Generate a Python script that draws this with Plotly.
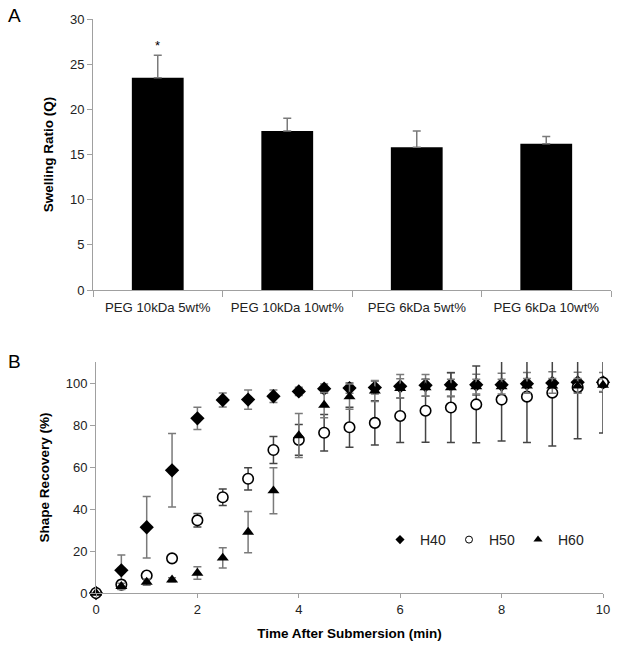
import plotly.graph_objects as go

# Panel A data
categories = ["PEG 10kDa 5wt%", "PEG 10kDa 10wt%", "PEG 6kDa 5wt%", "PEG 6kDa 10wt%"]
swelling = [23.5, 17.6, 15.8, 16.2]
swelling_err = [2.5, 1.4, 1.8, 0.8]

# Panel B data
time_min = [0, 0.5, 1, 1.5, 2, 2.5, 3, 3.5, 4, 4.5, 5, 5.5, 6, 6.5, 7, 7.5, 8, 8.5, 9, 9.5, 10]
h40 = [0, 10.8, 31.3, 58.4, 83.2, 91.9, 92.1, 93.7, 96.0, 97.3, 97.6, 97.8, 98.4, 98.9, 99.2, 99.2, 99.2, 99.7, 100.0, 100.3, 100.3]
h40_err = [0, 7.3, 14.6, 17.5, 5.3, 3.3, 4.6, 3.0, 2.0, 2.2, 2.5, 3.0, 5.7, 5.2, 5.8, 5.0, 5.4, 5.3, 5.3, 4.8, 4.7]
h50 = [0, 4.0, 8.3, 16.5, 34.6, 45.6, 54.4, 68.1, 72.9, 76.3, 78.9, 81.0, 84.3, 86.8, 88.3, 89.8, 92.1, 93.5, 95.4, 98.0, 100.2]
h50_err = [0, 2.0, 1.5, 1.0, 3.2, 3.9, 5.3, 6.4, 7.3, 8.7, 9.5, 10.5, 12.6, 15.0, 16.6, 18.3, 19.7, 21.8, 25.4, 24.6, 24.0]
h60 = [0, 3.2, 5.2, 6.3, 9.5, 16.7, 29.0, 48.7, 75.0, 89.5, 93.5, 96.2, 97.5, 97.8, 97.8, 98.3, 98.3, 98.6, 98.6, 98.6, 99.0]
h60_err = [0, 1.5, 1.5, 1.0, 3.0, 4.8, 9.8, 11.0, 10.5, 6.0, 6.0, 5.0, 4.5, 4.0, 4.0, 3.5, 3.5, 3.5, 3.5, 3.5, 3.0]
series_names = ["H40", "H50", "H60"]

W, H = 617, 646
FONT = "Liberation Sans, Arial, sans-serif"
TICKC = "#222222"
AXC = "#a0a0a0"
ERRC = "#7a7a7a"


def px_x(p):
    return p / W


def px_y(p):
    return (H - p) / H


fig = go.Figure()

fig.add_trace(go.Bar(
    x=categories, y=swelling, width=0.4,
    marker=dict(color="black", line=dict(width=0)),
    error_y=dict(type="data", array=swelling_err, arrayminus=[0] * 4, symmetric=False,
                 color=ERRC, thickness=1.5, width=4),
    xaxis="x", yaxis="y", showlegend=False,
))

styles = [
    dict(symbol="diamond", size=11, color="black", line=dict(width=0)),
    dict(symbol="circle", size=10.5, color="white", line=dict(color="black", width=1.6)),
    dict(symbol="triangle-up", size=10.5, color="black", line=dict(width=0)),
]
legend_styles = [
    dict(symbol="diamond", size=7, color="black", line=dict(width=0)),
    dict(symbol="circle", size=7, color="white", line=dict(color="black", width=1)),
    dict(symbol="triangle-up", size=8, color="black", line=dict(width=0)),
]
ecolors = [ERRC, "#444444", ERRC]

for name, y, err, st, lst, ec in zip(series_names, [h40, h50, h60], [h40_err, h50_err, h60_err],
                                     styles, legend_styles, ecolors):
    fig.add_trace(go.Scatter(
        x=time_min, y=y, mode="markers", name=name, legendgroup=name, showlegend=False,
        marker=st,
        error_y=dict(type="data", array=err, color=ec, thickness=1.5, width=4),
        xaxis="x2", yaxis="y2", cliponaxis=False,
    ))
    # legend entry with the smaller symbol used in the reference legend
    fig.add_trace(go.Scatter(
        x=[None], y=[None], mode="markers", name=name, legendgroup=name, showlegend=True,
        marker=lst, xaxis="x2", yaxis="y2",
    ))

fig.update_layout(
    width=W, height=H,
    margin=dict(l=0, r=0, t=0, b=0),
    paper_bgcolor="white", plot_bgcolor="white",
    font=dict(family=FONT, size=12, color=TICKC),
    xaxis=dict(domain=[px_x(93), px_x(611)], anchor="y", type="category",
               showline=True, linecolor=AXC, linewidth=1,
               ticks="outside", tickson="boundaries", ticklen=6, tickcolor=AXC,
               ticklabelstandoff=5,
               tickfont=dict(size=13.2, color=TICKC), showgrid=False, automargin=False),
    yaxis=dict(domain=[px_y(290), px_y(19)], anchor="x", range=[0, 30], dtick=5,
               showline=True, linecolor=AXC, linewidth=1,
               ticks="outside", ticklen=5, tickcolor=AXC, showgrid=False, zeroline=False,
               tickfont=dict(size=13, color=TICKC),
               title=dict(text="<b>Swelling Ratio (Q)</b>", font=dict(size=13.5, color="black"), standoff=13),
               automargin=False),
    xaxis2=dict(domain=[px_x(96), px_x(603)], anchor="y2", range=[0, 10], dtick=2,
                showline=True, linecolor=AXC, linewidth=1,
                ticks="outside", ticklen=4, tickcolor=AXC, showgrid=False, zeroline=False,
                tickfont=dict(size=13, color=TICKC),
                title=dict(text="<b>Time After Submersion (min)</b>", font=dict(size=13.5, color="black"), standoff=12),
                automargin=False),
    yaxis2=dict(domain=[px_y(593), px_y(362)], anchor="x2", range=[0, 110],
                tickvals=[0, 20, 40, 60, 80, 100],
                showline=True, linecolor=AXC, linewidth=1,
                ticks="outside", ticklen=5, tickcolor=AXC, showgrid=False, zeroline=False,
                tickfont=dict(size=13, color=TICKC),
                title=dict(text="<b>Shape Recovery (%)</b>", font=dict(size=13.5, color="black"), standoff=12),
                automargin=False),
    legend=dict(orientation="h", x=px_x(380), y=px_y(540), xanchor="left", yanchor="middle",
                bgcolor="rgba(0,0,0,0)", font=dict(size=14, color=TICKC),
                itemwidth=30, tracegroupgap=0, itemclick=False,
                entrywidth=24, entrywidthmode="pixels"),
    showlegend=True,
    annotations=[
        dict(text="A", x=px_x(6), y=px_y(15), xref="paper", yref="paper", showarrow=False,
             xanchor="left", yanchor="middle", font=dict(size=19, color="black", family=FONT)),
        dict(text="B", x=px_x(6), y=px_y(361), xref="paper", yref="paper", showarrow=False,
             xanchor="left", yanchor="middle", font=dict(size=19, color="black", family=FONT)),
        dict(text="*", x=categories[0], y=swelling[0] + swelling_err[0], xref="x", yref="y",
             showarrow=False, yanchor="bottom", font=dict(size=13, color="black", family=FONT)),
    ],
)

fig.write_html(
    "out.html",
    config={"displayModeBar": False, "staticPlot": False},
    post_script="document.body.style.margin='0px';document.body.style.overflow='hidden';",
)
